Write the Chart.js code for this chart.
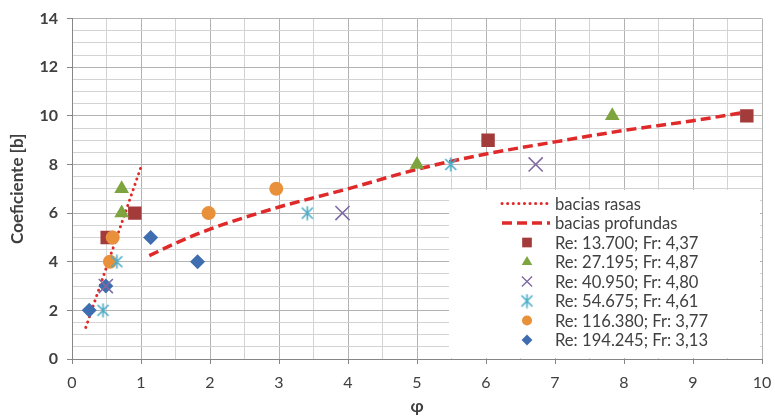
<!DOCTYPE html>
<html>
<head>
<meta charset="utf-8">
<script src="https://cdn.jsdelivr.net/npm/chart.js@4/dist/chart.umd.min.js"></script>
<style>
  body { margin: 0; background: #fff; }
  canvas { display: block; }
</style>
</head>
<body>
<canvas id="coefChart" width="775" height="418"></canvas>
<script>
// trend lines
const shallowX = [0.2, 1.0];
const shallowY = [1.3, 7.9];
const deepX = [1.12, 1.5, 2, 3, 4, 5, 6, 7, 8, 9, 9.8];
const deepY = [4.25, 4.76, 5.34, 6.25, 7.0, 7.8, 8.43, 8.93, 9.4, 9.8, 10.17];

// measured series
const re13700X = [0.51, 0.91, 6.03, 9.78];
const re13700Y = [5, 6, 9, 10];
const re27195X = [0.72, 0.72, 5.0, 7.83];
const re27195Y = [6, 7, 8, 10];
const re40950X = [0.49, 3.92, 6.72];
const re40950Y = [3, 6, 8];
const re54675X = [0.45, 0.65, 3.41, 5.49];
const re54675Y = [2, 4, 6, 8];
const re116380X = [0.55, 0.59, 1.98, 2.96];
const re116380Y = [4, 5, 6, 7];
const re194245X = [0.25, 0.49, 1.14, 1.82];
const re194245Y = [2, 3, 5, 4];

const seriesLabels = [
    'bacias rasas',
    'bacias profundas',
    'Re: 13.700; Fr: 4,37',
    'Re: 27.195; Fr: 4,87',
    'Re: 40.950; Fr: 4,80',
    'Re: 54.675; Fr: 4,61',
    'Re: 116.380; Fr: 3,77',
    'Re: 194.245; Fr: 3,13'
];

const xTicks = [0, 1, 2, 3, 4, 5, 6, 7, 8, 9, 10];
const yTicks = [0, 2, 4, 6, 8, 10, 12, 14];

const toPoints = (xs, ys) => xs.map((x, i) => ({ x: x, y: ys[i] }));

// excel style asterisk marker
function makeStar(color) {
    const c = document.createElement('canvas');
    c.width = 15; c.height = 15;
    const g = c.getContext('2d');
    g.strokeStyle = color;
    g.lineWidth = 1.6;
    g.beginPath();
    g.moveTo(2, 2); g.lineTo(13, 13);
    g.moveTo(13, 2); g.lineTo(2, 13);
    g.moveTo(7.5, 0.5); g.lineTo(7.5, 14.5);
    g.stroke();
    return c;
}
const starImg = makeStar('#4BACC6');

const markerSeries = [
    { x: re13700X, y: re13700Y, style: 'rect', r: 9.5, color: '#A33B3B', order: 6 },
    { x: re27195X, y: re27195Y, style: 'triangle', r: 8.5, color: '#7DA43F', order: 3 },
    { x: re40950X, y: re40950Y, style: 'crossRot', r: 10, color: '#7F6AA3', order: 2, line: true },
    { x: re54675X, y: re54675Y, style: starImg, r: 7, color: '#4BACC6', order: 1, line: true },
    { x: re116380X, y: re116380Y, style: 'circle', r: 7, color: '#E8913A', order: 4 },
    { x: re194245X, y: re194245Y, style: 'rectRot', r: 7.5, color: '#3F6EB0', order: 5 }
];

const datasets = [
    {
        label: seriesLabels[0],
        data: toPoints(shallowX, shallowY),
        showLine: true,
        borderColor: '#E02A2A',
        borderWidth: 3,
        borderDash: [0.1, 5.5],
        borderCapStyle: 'round',
        pointRadius: 0,
        order: 100
    },
    {
        label: seriesLabels[1],
        data: toPoints(deepX, deepY),
        showLine: true,
        borderColor: '#E02A2A',
        borderWidth: 3.5,
        borderDash: [10, 5],
        cubicInterpolationMode: 'monotone',
        pointRadius: 0,
        order: 100
    }
];
markerSeries.forEach((s, i) => {
    datasets.push({
        label: seriesLabels[i + 2],
        data: toPoints(s.x, s.y),
        pointStyle: s.style,
        pointRadius: s.r,
        pointBackgroundColor: s.color,
        pointBorderColor: s.color,
        pointBorderWidth: s.line ? 1.6 : 0,
        showLine: false,
        order: s.order
    });
});

// legend drawn inside the plot, like the excel box
const boxLegend = {
    id: 'boxLegend',
    beforeDatasetsDraw(chart) {
        const ctx = chart.ctx;
        const area = chart.chartArea;
        const left = 449, top = 190, right = area.right - 2, bottom = area.bottom - 1;
        ctx.save();
        ctx.fillStyle = '#FFFFFF';
        ctx.fillRect(left, top, right - left, bottom - top);

        const rowY = 203.5, rowH = 19.5;
        const symX0 = 502, symX1 = 550, symC = 527, textX = 555;
        ctx.font = '16.6px Lato';
        ctx.textBaseline = 'middle';
        ctx.textAlign = 'left';
        chart.data.datasets.forEach((ds, i) => {
            const y = rowY + i * rowH;
            if (i < 2) {
                ctx.save();
                ctx.strokeStyle = ds.borderColor;
                ctx.lineWidth = ds.borderWidth;
                ctx.setLineDash(ds.borderDash);
                ctx.lineCap = ds.borderCapStyle || 'butt';
                ctx.beginPath();
                ctx.moveTo(symX0, y);
                ctx.lineTo(symX1, y);
                ctx.stroke();
                ctx.restore();
            } else {
                const s = markerSeries[i - 2];
                ctx.save();
                ctx.fillStyle = s.color;
                ctx.strokeStyle = s.color;
                ctx.lineWidth = s.line ? 1.4 : 0;
                Chart.helpers.drawPoint(ctx, {
                    pointStyle: s.style,
                    radius: s.style === starImg ? 6 : s.r * 0.72,
                    rotation: 0,
                    borderWidth: s.line ? 1.4 : 0
                }, symC, y);
                ctx.restore();
            }
            ctx.fillStyle = '#404040';
            ctx.fillText(ds.label, textX, y + 1);
        });
        ctx.restore();
    }
};

const gridColor = (c, step) => {
    const v = c.tick ? c.tick.value : 0;
    return Math.abs(v / step - Math.round(v / step)) < 1e-6 ? '#B2B2B2' : '#D3D3D3';
};
const tickMarkColor = (c, step) => {
    const v = c.tick ? c.tick.value : 0;
    return Math.abs(v / step - Math.round(v / step)) < 1e-6 ? '#868686' : 'rgba(0,0,0,0)';
};

const chartInstance = new Chart(document.getElementById('coefChart').getContext('2d'), {
    type: 'scatter',
    data: { datasets: datasets },
    plugins: [boxLegend],
    options: {
        responsive: false,
        animation: false,
        devicePixelRatio: 1,
        layout: { padding: { top: 8, right: 13, left: 0, bottom: 0 } },
        plugins: {
            legend: { display: false },
            tooltip: { enabled: false }
        },
        scales: {
            x: {
                type: 'linear',
                min: xTicks[0],
                max: xTicks[xTicks.length - 1],
                afterFit: (s) => { s.height = 59; s.paddingRight = 0; s.paddingLeft = 0; },
                ticks: {
                    stepSize: 0.5,
                    autoSkip: false,
                    maxRotation: 0,
                    padding: 9,
                    color: '#404040',
                    font: { family: 'Lato', size: 16 },
                    callback: (v) => xTicks.includes(v) ? String(v) : ''
                },
                grid: {
                    color: (c) => gridColor(c, 1),
                    tickColor: (c) => tickMarkColor(c, 1),
                    tickLength: 5
                },
                border: { color: '#868686', width: 1 },
                title: {
                    display: true,
                    text: 'φ',
                    color: '#404040',
                    font: { family: 'Lato', size: 17, weight: 'bold' },
                    padding: { top: 0, bottom: 1 }
                }
            },
            y: {
                type: 'linear',
                min: yTicks[0],
                max: yTicks[yTicks.length - 1],
                afterFit: (s) => { s.width = 72; },
                ticks: {
                    stepSize: 0.5,
                    autoSkip: false,
                    padding: 9,
                    color: '#404040',
                    font: { family: 'Lato', size: 16, weight: 'bold' },
                    callback: (v) => yTicks.includes(v) ? String(v) : ''
                },
                grid: {
                    color: (c) => gridColor(c, 2),
                    tickColor: (c) => tickMarkColor(c, 2),
                    tickLength: 5
                },
                border: { color: '#868686', width: 1 },
                title: {
                    display: true,
                    text: 'Coeficiente [b]',
                    color: '#404040',
                    font: { family: 'Lato', size: 17, weight: 'bold' },
                    padding: { top: 7, bottom: 0 }
                }
            }
        }
    }
});
</script>
</body>
</html>
